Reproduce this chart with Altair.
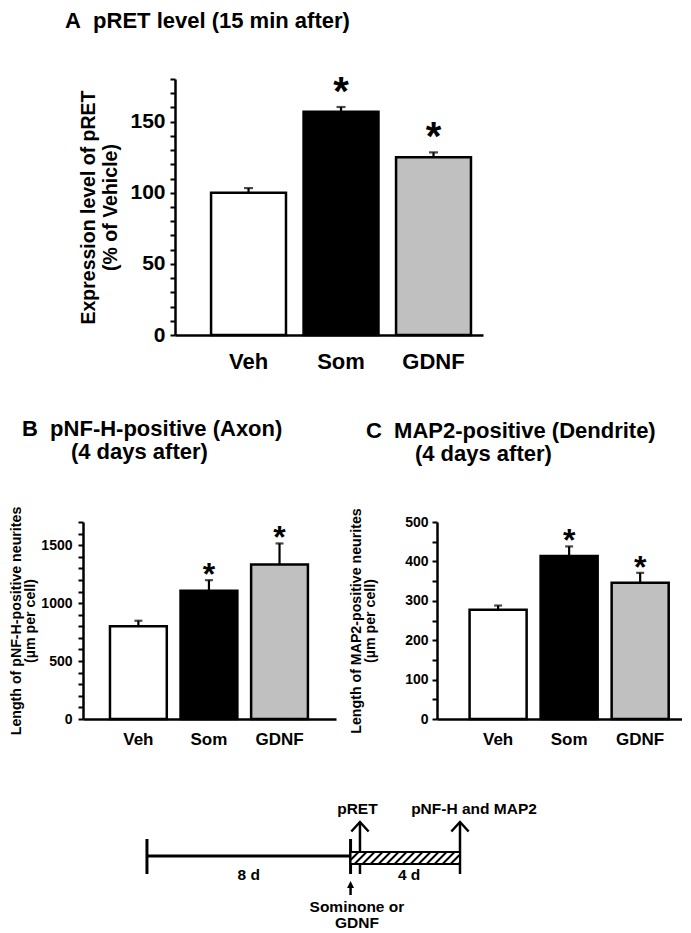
import altair as alt
import pandas as pd

FONT = "Liberation Sans"

# ---------------- data ----------------
groups = ["Veh", "Som", "GDNF"]
fills = ["#ffffff", "#000000", "#c0c0c0"]
sig = ["", "*", "*"]

a_mean = [100, 157, 125]
a_sem = [3.3, 3.3, 3.4]
b_mean = [800, 1107, 1334]
b_sem = [48, 91, 181]
c_mean = [277, 414, 346]
c_sem = [11, 24, 25]

a_ticks = list(range(0, 181, 10))
b_ticks = list(range(0, 1701, 100))
c_ticks = list(range(0, 501, 50))

NB = "\u00a0"
ZW = "\u200b"


def title_params(text, dx, offset, frame="group"):
    return alt.TitleParams(text=text, anchor="start", frame=frame,
                           dx=dx, offset=offset, fontSize=22,
                           fontWeight="bold", font=FONT, color="black",
                           lineHeight=23)


def panel(mean, sem, ticks, label_every, ymax, ytitle, w, h,
          pi, po, al, xlab_size, ylab_size, ylab_pad, ytitle_size, ytitle_lh,
          ytitle_pad, star_size, star_dy, cap_w, xlab_pad, title=None):
    df = pd.DataFrame({
        "group": groups,
        "mean": mean,
        "top": [m + s for m, s in zip(mean, sem)],
        "sig": sig,
    })
    xscale = alt.Scale(paddingInner=pi, paddingOuter=po, align=al)
    xaxis = alt.Axis(title=None, labelAngle=0, ticks=False,
                     labelFontSize=xlab_size, labelFontWeight="bold",
                     labelFont=FONT, labelColor="black",
                     labelPadding=xlab_pad, domainWidth=2.5,
                     domainColor="black")
    yscale = alt.Scale(domain=[0, ymax], nice=False, zero=True)
    yaxis = alt.Axis(values=ticks,
                     labelExpr=f"datum.value % {label_every} == 0 ? format(datum.value, 'd') : ''",
                     labelOverlap=False, grid=False,
                     tickSize=5, tickWidth=2, tickColor="black",
                     domainWidth=2.5, domainColor="black",
                     labelFontSize=ylab_size, labelFontWeight="bold",
                     labelFont=FONT, labelColor="black", labelPadding=ylab_pad,
                     title=ytitle, titleFontSize=ytitle_size,
                     titleFontWeight="bold", titleFont=FONT,
                     titleColor="black", titleLineHeight=ytitle_lh,
                     titlePadding=ytitle_pad)
    X = alt.X("group:N", sort=groups, scale=xscale, axis=xaxis)
    base = alt.Chart(df)
    bars = base.mark_bar(stroke="black", strokeWidth=2.5).encode(
        x=X,
        y=alt.Y("mean:Q", scale=yscale, axis=yaxis),
        fill=alt.Fill("group:N", scale=alt.Scale(domain=groups, range=fills),
                      legend=None),
    )
    err = base.mark_rule(color="black", strokeWidth=2.2).encode(
        x=X, y=alt.Y("mean:Q", scale=yscale, axis=yaxis), y2="top:Q")
    cap = base.mark_tick(color="black", thickness=2.2, size=cap_w).encode(
        x=X, y=alt.Y("top:Q", scale=yscale, axis=yaxis))
    star = base.mark_text(fontSize=star_size, fontWeight="bold", font=FONT,
                          baseline="alphabetic", dy=star_dy,
                          color="black").encode(
        x=X, y=alt.Y("top:Q", scale=yscale, axis=yaxis), text="sig:N")
    layer = alt.layer(bars, err, cap, star).properties(width=w, height=h)
    if title is not None:
        layer = layer.properties(title=title)
    return layer


def spacer(w, h):
    return alt.Chart(pd.DataFrame({"v": [0]})).mark_point(
        size=1, opacity=0).encode(
        x=alt.X("v:Q", axis=None), y=alt.Y("v:Q", axis=None)
    ).properties(width=w, height=h)


chart_a = panel(a_mean, a_sem, a_ticks, 50, 180,
                ["Expression level of pRET", "(% of Vehicle)"],
                308, 256, 0.19, 0.26, 0.75, 22, 21, 5, 19.5, 22, 9,
                40, -2, 9, 16)

chart_b = panel(b_mean, b_sem, b_ticks, 500, 1700,
                ["Length of pNF-H-positive neurites", "(\u00b5m per cell)"],
                253, 197, 0.195, 0.39, 0.49, 17, 14, 6, 14.2, 14, 3,
                32, 5, 8, 12,
                title=title_params(["B" + NB * 2 + "pNF-H-positive (Axon)",
                                    ZW + NB * 8 + "(4 days after)"], -61, 42))

chart_c = panel(c_mean, c_sem, c_ticks, 100, 500,
                ["Length of MAP2-positive neurites", "(\u00b5m per cell)"],
                245, 197, 0.197, 0.323, 0.71, 17, 14, 4, 14.2, 14, 27,
                32, 5, 8, 12,
                title=title_params(["C" + NB * 2 + "MAP2-positive (Dendrite)",
                                    ZW + NB * 8 + "(4 days after)"], -71, 42))

row_a = alt.hconcat(spacer(70, 256), chart_a, spacing=0).properties(
    title=title_params("A" + NB * 2 + "pRET level (15 min after)", 57, 35,
                       frame="bounds"))
row_bc = alt.hconcat(spacer(1, 197), alt.hconcat(chart_b, chart_c, spacing=13),
                     spacing=0)

# ---------------- timeline schematic (days) ----------------
culture_days = [0, 8]          # 8 d culture
treat_days = [8, 12.3]         # 4 d treatment (hatched)
pret_day = 8.37                # pRET sampling (15 min after)
end_day = 12.3                 # pNF-H / MAP2 sampling
tl_xdom = [-5.46, 15.6]
tl_ydom = [-75, 63]
PXD = 25.45

xs = alt.Scale(domain=tl_xdom, nice=False, zero=False)
ys = alt.Scale(domain=tl_ydom, nice=False, zero=False)


def XQ(f):
    return alt.X(f, type="quantitative", scale=xs, axis=None)


def YQ(f):
    return alt.Y(f, type="quantitative", scale=ys, axis=None)


segs = pd.DataFrame({
    "x": [culture_days[0], culture_days[0], culture_days[1], pret_day, end_day, treat_days[0]],
    "x2": [culture_days[1], culture_days[0], culture_days[1], pret_day, end_day, treat_days[0]],
    "y": [0, -18, -18, -18, -18, -29],
    "y2": [0, 17, 17, 34, 34, -39],
    "w": [3, 3, 3, 2.5, 2.5, 2.5],
})
lines = alt.Chart(segs).mark_rule(color="black").encode(
    x=XQ("x"), x2="x2", y=YQ("y"), y2="y2",
    strokeWidth=alt.StrokeWidth("w:Q", scale=None))

box = alt.Chart(pd.DataFrame({"x": [treat_days[0]], "x2": [treat_days[1]],
                              "y": [-8], "y2": [4]})).mark_rect(
    fill="white", stroke="black", strokeWidth=2).encode(
    x=XQ("x"), x2="x2", y=YQ("y"), y2="y2")

# hatch stripes ("/") inside the treatment box
hx0, hx1 = treat_days
hy0, hy1 = -8, 4
run = (hy1 - hy0) / PXD
stripes = []
s = hx0 - run
while s < hx1:
    xa, ya = s, hy0
    xb, yb = s + run, hy1
    if xa < hx0:
        ya = hy0 + (hx0 - xa) * PXD
        xa = hx0
    if xb > hx1:
        yb = hy1 - (xb - hx1) * PXD
        xb = hx1
    stripes.append({"x": xa, "y": ya, "x2": xb, "y2": yb})
    s += 8 / PXD
hatch = alt.Chart(pd.DataFrame(stripes)).mark_rule(
    color="black", strokeWidth=2).encode(
    x=XQ("x"), x2="x2", y=YQ("y"), y2="y2")

heads = alt.Chart(pd.DataFrame({"x": [pret_day, end_day], "y": [34, 34]})).mark_point(
    shape="M-1,1.1L0,0L1,1.1", filled=False, color="black", strokeWidth=2.5,
    size=300, opacity=1).encode(x=XQ("x"), y=YQ("y"))

small_head = alt.Chart(pd.DataFrame({"x": [treat_days[0]], "y": [-29.4]})).mark_point(
    shape="M0,-1L0.8,0.6L-0.8,0.6Z", filled=True, color="black",
    size=77, opacity=1).encode(x=XQ("x"), y=YQ("y"))

tl_text = pd.DataFrame({
    "x": [8.27, 12.85, 4.0, 10.3, 8.25, 8.25],
    "y": [47, 47, -19, -19, -51, -67],
    "t": ["pRET", "pNF-H and MAP2", "8 d", "4 d", "Sominone or", "GDNF"],
})
texts = alt.Chart(tl_text).mark_text(
    fontSize=15.5, fontWeight="bold", font=FONT, color="black",
    baseline="middle", align="center").encode(
    x=XQ("x"), y=YQ("y"), text="t:N")

timeline = alt.layer(lines, box, hatch, heads, small_head, texts).properties(
    width=(tl_xdom[1] - tl_xdom[0]) * PXD, height=tl_ydom[1] - tl_ydom[0])

chart = alt.vconcat(row_a, row_bc, timeline, spacing=46).properties(
    padding={"left": 0, "top": 2, "right": 0, "bottom": 0}
).configure_view(stroke=None)

chart.save("out.html", embed_options={"renderer": "svg", "actions": False})
